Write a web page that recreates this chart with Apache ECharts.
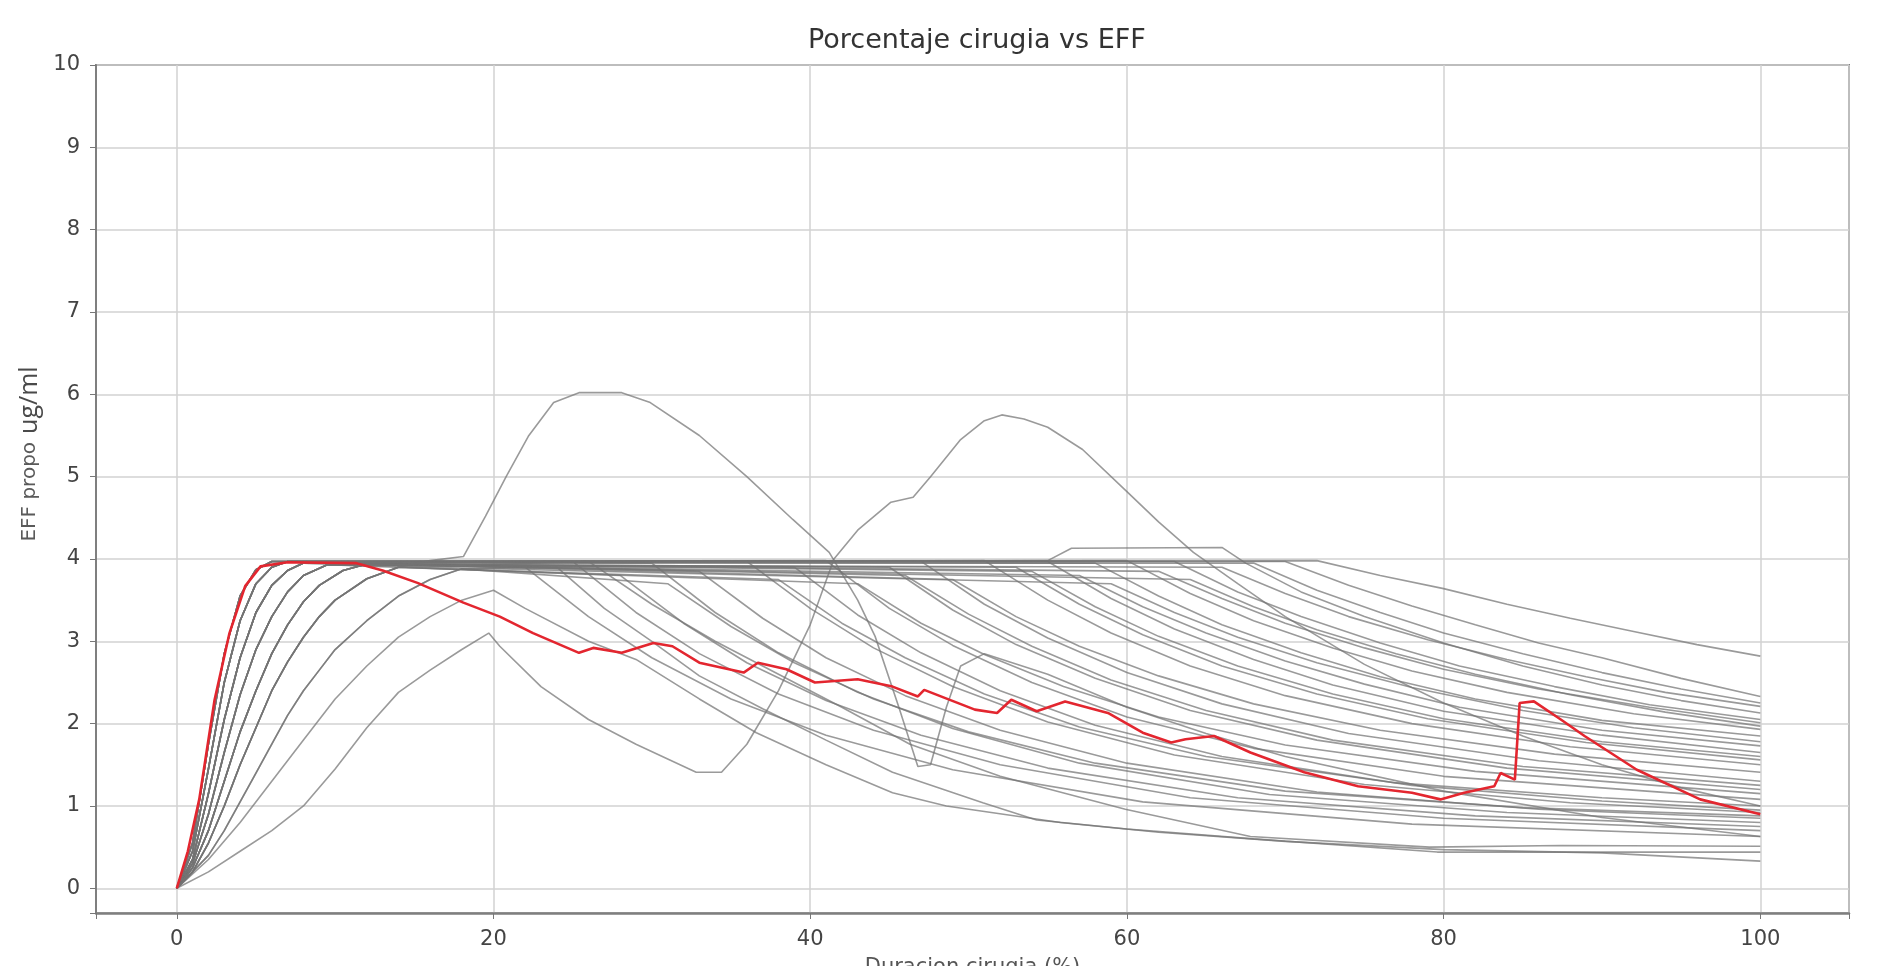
<!DOCTYPE html>
<html>
<head>
<meta charset="utf-8">
<title>Porcentaje cirugia vs EFF</title>
<script src="https://cdn.jsdelivr.net/npm/echarts@6/dist/echarts.min.js"></script>
<style>
  html, body { margin: 0; padding: 0; background: #fff; }
  #chart { width: 1878px; height: 966px; }
</style>
</head>
<body>
<div id="chart"></div>
<script>
// induction curves (x = % of surgery, y = EFF propofol ug/ml)
var riseA = [[0,0],[1,0.55],[2,1.75],[3,2.85],[4,3.55],[5,3.87],[6,3.97]];
var riseB = [[0,0],[1,0.45],[2,1.45],[3,2.5],[4,3.25],[5,3.7],[6,3.9],[7,3.97]];
var riseC = [[0,0],[1,0.35],[2,1.15],[3,2.05],[4,2.8],[5,3.35],[6,3.68],[7,3.86],[8,3.95]];
var riseD = [[0,0],[1,0.3],[2,0.9],[3,1.65],[4,2.35],[5,2.9],[6,3.3],[7,3.6],[8,3.8],[9.5,3.93]];
var riseE = [[0,0],[1,0.25],[2,0.7],[3,1.3],[4,1.9],[5,2.4],[6,2.85],[7,3.2],[8,3.48],[9,3.68],[10.5,3.86],[12,3.94]];
var riseF = [[0,0],[1,0.2],[2,0.55],[3,1.0],[4,1.5],[5,1.95],[6,2.4],[7,2.75],[8,3.05],[9,3.3],[10,3.5],[12,3.76],[14,3.9]];
var riseG = [[0,0],[2,0.4],[3,0.7],[4,1.05],[5,1.4],[6,1.75],[7,2.1],[8,2.4],[9,2.65],[10,2.9],[12,3.25],[14,3.55],[16,3.75],[18,3.88]];
var riseH = [[0,0],[2,0.35],[4,0.8],[6,1.3],[8,1.8],[10,2.3],[12,2.7],[14,3.05],[16,3.3],[18,3.5],[20,3.62]];

// maintenance / washout part of each grey curve
var falls = {
  f1:  [[72,3.98],[76,3.8],[80,3.64],[84,3.45],[88,3.28],[92,3.12],[96,2.96],[100,2.82]],
  f2:  [[70,3.97],[74,3.68],[78,3.43],[82,3.2],[86,2.98],[90,2.8],[95,2.55],[100,2.33]],
  f3:  [[68,3.95],[72,3.62],[76,3.35],[80,3.1],[85,2.85],[90,2.62],[95,2.42],[100,2.25]],
  f4:  [[66,3.9],[70,3.58],[74,3.3],[79,3.02],[84,2.78],[89,2.57],[94,2.38],[100,2.21]],
  f5:  [[55,3.98],[56.5,4.13],[66,4.14],[67.5,3.95],[71,3.6],[75,3.3],[80,2.98],[85,2.7],[90,2.47],[95,2.28],[100,2.13]],
  f6:  [[63,3.97],[67,3.6],[71,3.3],[76,2.98],[81,2.7],[87,2.45],[93,2.23],[100,2.05]],
  f7:  [[62,3.85],[66,3.52],[70,3.22],[75,2.92],[80,2.66],[86,2.42],[93,2.2],[100,2.01]],
  f8:  [[60,3.98],[64,3.58],[68,3.25],[73,2.92],[78,2.64],[84,2.38],[92,2.12],[100,1.93]],
  f9:  [[58,3.95],[62,3.55],[66,3.2],[71,2.86],[76,2.57],[82,2.3],[90,2.04],[100,1.85]],
  f10: [[57,3.8],[61,3.42],[65,3.1],[70,2.76],[75,2.48],[81,2.2],[90,1.92],[100,1.73]],
  f11: [[55,3.97],[59,3.52],[63,3.15],[68,2.78],[73,2.47],[80,2.15],[90,1.86],[100,1.65]],
  f12: [[53,3.9],[57,3.45],[61,3.08],[66,2.7],[72,2.36],[79,2.06],[89,1.77],[100,1.56]],
  f13: [[51,3.98],[55,3.5],[59,3.1],[64,2.7],[70,2.34],[78,2.0],[88,1.72],[100,1.5]],
  f14: [[49,3.75],[53,3.3],[57,2.94],[62,2.58],[68,2.24],[76,1.92],[87,1.63],[100,1.41]],
  f15: [[47,3.97],[51,3.45],[55,3.04],[60,2.62],[66,2.24],[74,1.88],[86,1.55],[100,1.3]],
  f16: [[45,3.9],[49,3.38],[53,2.96],[58,2.55],[64,2.16],[72,1.8],[84,1.46],[100,1.2]],
  f17: [[43,3.7],[47,3.22],[51,2.84],[56,2.45],[62,2.08],[70,1.74],[82,1.42],[100,1.15]],
  f18: [[41,3.98],[45,3.4],[49,2.95],[54,2.5],[60,2.08],[68,1.7],[80,1.36],[100,1.08]],
  f19: [[39,3.9],[43,3.32],[47,2.86],[52,2.4],[58,1.98],[66,1.6],[78,1.25],[90,1.06],[100,0.95]],
  f20: [[36,3.97],[40,3.4],[44,2.92],[49,2.45],[55,2.02],[63,1.62],[75,1.26],[88,1.04],[100,0.92]],
  f21: [[33,3.85],[37,3.28],[41,2.8],[46,2.34],[52,1.92],[60,1.52],[72,1.17],[86,0.96],[100,0.85]],
  f22: [[30,3.95],[34,3.35],[38,2.86],[43,2.38],[49,1.94],[57,1.52],[69,1.14],[84,0.92],[100,0.8]],
  f23: [[28,3.8],[32,3.22],[36,2.74],[41,2.28],[47,1.86],[55,1.46],[67,1.1],[82,0.88],[100,0.75]],
  f24: [[25,3.97],[29,3.35],[33,2.85],[38,2.36],[44,1.92],[52,1.5],[64,1.1],[80,0.85],[100,0.7]],
  f25: [[22,3.9],[26,3.3],[30,2.8],[35,2.3],[41,1.86],[49,1.44],[61,1.05],[78,0.78],[100,0.63]],
  f26: [[22,3.4],[26,3.0],[29,2.78],[33,2.3],[36.6,1.89],[41,1.5],[45.2,1.16],[48.6,1.0],[55.8,0.8],[62,0.68],[70,0.57],[80,0.47],[90,0.43],[100,0.33]],
  f27: [[24,3.9],[27,3.4],[30,3.0],[33,2.58],[37,2.18],[41,1.8],[45.2,1.41],[50.9,1.04],[54.3,0.83],[60,0.72],[68,0.6],[79.6,0.44],[100,0.44]],
  f28: [[26,3.97],[30,3.45],[34,3.0],[38,2.6],[42,2.2],[46.3,1.75],[52,1.36],[59.9,0.96],[67.8,0.63],[79.1,0.5],[87.4,0.52],[100,0.51]],
  f29: [[64,3.75],[68,3.42],[72,3.14],[77,2.85],[82,2.6],[88,2.35],[94,2.14],[100,1.97]],
  f30: [[59,3.7],[63,3.35],[67,3.05],[72,2.74],[78,2.44],[85,2.16],[92,1.95],[100,1.78]],
  f31: [[54,3.85],[58,3.42],[62,3.06],[67,2.7],[73,2.36],[80,2.06],[90,1.78],[100,1.6]],
  f32: [[46,3.8],[50,3.33],[54,2.94],[59,2.53],[65,2.16],[73,1.8],[85,1.48],[100,1.25]],
  f33: [[38,3.75],[42,3.22],[46,2.8],[51,2.36],[57,1.96],[65,1.6],[77,1.28],[90,1.1],[100,1.0]],
  f34: [[31,3.7],[35,3.18],[39,2.74],[44,2.3],[50,1.9],[58,1.52],[70,1.18],[85,0.98],[100,0.88]],
  // curve that climbs to 6 ug/ml
  peak6: [[16,3.98],[18.1,4.03],[19.5,4.52],[20.8,5.0],[22.2,5.49],[23.8,5.9],[25.4,6.02],[28.1,6.02],[29.9,5.9],[33,5.5],[36,5.0],[38.9,4.48],[41.2,4.08],[43,3.5],[44.1,3.06],[45.6,2.2],[46.8,1.48],[47.6,1.5],[48.6,2.2],[49.5,2.7],[51,2.85],[55,2.6],[60,2.2],[65,1.88],[70,1.6],[80,1.18],[90,0.86],[100,0.63]],
  // curve with the dip at 34 % and second peak near 52 %
  peak57: [[2,0.2],[4,0.45],[6,0.7],[8,1.0],[10,1.45],[12,1.95],[14,2.38],[16,2.65],[18,2.9],[19.7,3.1],[20.4,2.94],[23,2.45],[26,2.05],[29,1.75],[32.8,1.41],[34.4,1.41],[36,1.75],[38,2.4],[40,3.2],[41.5,4.0],[43,4.35],[45.1,4.69],[46.5,4.75],[47.6,5.0],[49.5,5.45],[51,5.68],[52.1,5.75],[53.5,5.7],[55,5.6],[57.2,5.33],[60.1,4.8],[62,4.45],[64.2,4.08],[67,3.7],[70,3.3],[75,2.72],[80,2.25],[85,1.85],[90,1.5],[95,1.22],[100,1.0]]
};

// which induction shape goes with which washout
var pairs = [
  ['A','f1'],['A','f6'],['A','f11'],['A','f18'],['A','f24'],['A','f8'],
  ['B','f2'],['B','f9'],['B','f13'],['B','f15'],['B','f20'],['B','f22'],
  ['C','f3'],['C','f5'],['C','f10'],['C','f16'],['C','f29'],['C','f31'],
  ['D','f4'],['D','f12'],['D','f19'],['D','f23'],['D','f30'],
  ['E','f7'],['E','f14'],['E','f21'],['E','f25'],['E','f32'],
  ['F','f17'],['F','f28'],['F','f33'],['F','peak6'],
  ['G','f27'],['G','f34'],
  ['H','f26'],
  ['start','peak57']
];

// highlighted patient
var redCurve = [[0,0],[0.7,0.45],[1.42,1.08],[2.38,2.28],[3.33,3.1],[4.32,3.67],[5.29,3.91],[7,3.96],[11.3,3.95],[13,3.86],[15.2,3.71],[18.1,3.47],[20.4,3.3],[22.5,3.1],[25.4,2.86],[26.3,2.92],[28.1,2.86],[30.1,2.98],[31.3,2.94],[33,2.74],[35.8,2.62],[36.7,2.74],[38.5,2.66],[40.3,2.5],[43,2.54],[45.2,2.45],[46.8,2.33],[47.2,2.41],[50.4,2.17],[51.8,2.13],[52.7,2.29],[54.3,2.15],[56.1,2.27],[58.8,2.13],[61,1.89],[62.8,1.77],[63.7,1.81],[65.5,1.85],[67.8,1.65],[71.2,1.41],[74.6,1.24],[78,1.16],[79.8,1.08],[81.3,1.16],[83.2,1.24],[83.6,1.4],[84.5,1.32],[84.8,2.25],[85.7,2.27],[87.4,2.05],[88.9,1.85],[92.2,1.44],[96.2,1.08],[100,0.9]];

var rises = { A: riseA, B: riseB, C: riseC, D: riseD, E: riseE, F: riseF, G: riseG, H: riseH, start: [[0,0]] };

var chart = echarts.init(document.getElementById('chart'));

var series = pairs.map(function (p) {
  return {
    type: 'line',
    data: rises[p[0]].concat(falls[p[1]]),
    showSymbol: false,
    silent: true,
    lineStyle: { color: 'rgba(115,115,115,0.72)', width: 1.6 },
    z: 2
  };
});
series.push({
  type: 'line',
  data: redCurve,
  showSymbol: false,
  silent: true,
  lineStyle: { color: '#e3262f', width: 2.6 },
  z: 5
});

var option = {
  backgroundColor: '#fff',
  animation: false,
  title: {
    text: 'Porcentaje cirugia vs EFF',
    left: 803,
    top: 22,
    textStyle: { fontFamily: 'DejaVu Sans', fontSize: 27, fontWeight: 'normal', color: '#333' }
  },
  grid: {
    left: 96, right: 29, top: 65, bottom: 53,
    containLabel: false,
    outerBoundsMode: 'none',
    show: true, borderColor: '#7f7f7f', borderWidth: 2
  },
  xAxis: {
    type: 'value',
    min: -5.1,
    max: 105.6,
    splitNumber: 5,
    name: 'Duracion cirugia (%)',
    nameLocation: 'middle',
    nameGap: 44,
    nameTextStyle: { fontFamily: 'DejaVu Sans', fontSize: 21, color: '#555' },
    axisLine: { onZero: false, lineStyle: { color: '#7f7f7f', width: 2.5 } },
    axisTick: { length: 6, lineStyle: { color: '#777' } },
    axisLabel: {
      margin: 16,
      fontFamily: 'DejaVu Sans', fontSize: 21, color: '#444',
      formatter: function (v) { return (v >= 0 && v <= 100 && v % 20 === 0) ? String(v) : ''; }
    },
    splitLine: { show: true, lineStyle: { color: '#d2d2d2', width: 1.5 } }
  },
  yAxis: {
    type: 'value',
    min: -0.3,
    max: 10,
    splitNumber: 10,
    name: '{a|EFF propo}{b|ug/ml}',
    nameLocation: 'middle',
    nameRotate: 90,
    nameGap: 54,
    nameTextStyle: {
      rich: {
        a: { fontFamily: 'DejaVu Sans', fontSize: 20, color: '#5a5a5a', padding: [0, 0, 0, 70] },
        b: { fontFamily: 'Open Sans', fontSize: 25, color: '#4a4a4a', padding: [0, 0, 0, 8] }
      }
    },
    axisLine: { show: true, onZero: false, lineStyle: { color: '#7f7f7f', width: 2 } },
    axisTick: { show: true, length: 6, lineStyle: { color: '#777' } },
    axisLabel: {
      margin: 16,
      fontFamily: 'DejaVu Sans', fontSize: 21, color: '#444',
      formatter: function (v) { return Math.abs(v - Math.round(v)) < 1e-6 ? String(Math.round(v)) : ''; }
    },
    splitLine: { show: true, lineStyle: { color: '#d2d2d2', width: 1.5 } }
  },
  series: series
};

chart.setOption(option);
</script>
</body>
</html>
